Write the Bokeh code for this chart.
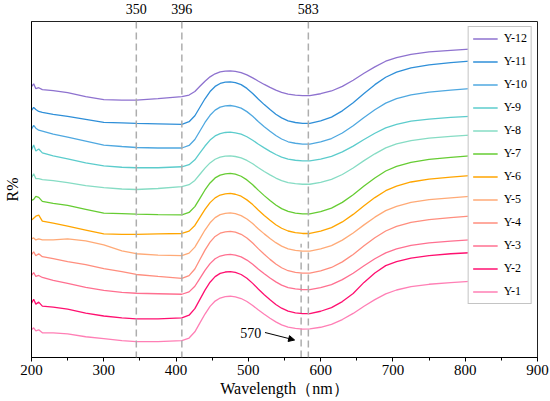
from bokeh.plotting import figure
from bokeh.models import (Range1d, SingleIntervalTicker, FixedTicker, Legend,
                          LegendItem, Label, Arrow, NormalHead, Span, LinearAxis)
from bokeh.embed import file_html
from bokeh.resources import INLINE

# ---------------- data (arbitrary R% units) ----------------
wavelength = [200, 203, 206, 210, 215, 230, 250, 275, 300, 325, 345, 375, 408,
              418, 426, 433, 440, 447, 454, 461, 468, 475,
              482, 490, 498, 506, 514, 522, 530, 538, 546, 555, 565, 575, 585,
              600, 615, 630, 645, 660, 675, 690, 705, 725, 750, 780, 806, 850]

r_y12 = [274, 277, 272, 273, 271, 270, 268, 264, 261, 260.5, 260.5, 262, 264,
         265.6, 269.2, 274.4, 279.6, 284.0, 287.1, 289.0, 289.7, 290,
         289.5, 288.3, 286, 283, 279.5, 276.3, 273.3, 270.5, 268.3, 266.5, 265.5, 265, 265,
         266.9, 269.7, 274.4, 280.5, 287.6, 294.1, 299.8, 303.5, 306.8, 309.2, 310.8, 312, 312.5]
r_y11 = [250, 253, 251, 249, 248, 246, 244, 241, 238, 237.5, 237, 236.5, 236,
         238.6, 244.6, 253.2, 261.8, 269.1, 274.3, 277.3, 278.6, 279,
         278.2, 276.1, 272.3, 267.2, 261.4, 255.9, 250.9, 246.2, 242.5, 239.5, 237.8, 237, 237,
         239.5, 243.3, 249.6, 257.8, 267.2, 276.1, 283.6, 288.7, 293.1, 296.2, 298.4, 300, 300.6]
r_y10 = [231, 235, 232, 230, 229, 226, 223, 219, 215, 213.5, 212.5, 212, 212,
         214.6, 220.6, 229.2, 237.8, 245.1, 250.3, 253.3, 254.6, 255,
         254.2, 252.3, 248.8, 244.1, 238.6, 233.6, 228.9, 224.6, 221.1, 218.3, 216.8, 216, 216,
         218.2, 221.6, 227.2, 234.5, 242.9, 250.7, 257.4, 261.9, 265.8, 268.6, 270.6, 272, 272.6]
r_y9 = [210, 215, 209, 211, 207, 204, 201, 197, 194, 192.5, 192, 192, 193,
        195.1, 200, 207, 214, 220, 224.2, 226.6, 227.7, 228,
        227.4, 226, 223.4, 219.9, 215.8, 212.1, 208.6, 205.4, 202.8, 200.7, 199.6, 199, 199,
        200.8, 203.5, 208, 213.9, 220.6, 226.9, 232.3, 235.9, 239.1, 241.3, 242.9, 244, 244.5]
r_y8 = [182, 186, 181, 181, 180, 179, 177, 174, 172, 170.5, 170, 171, 173,
        174.9, 179.2, 185.4, 191.6, 196.9, 200.6, 202.8, 203.7, 204,
        203.4, 202, 199.4, 196, 192, 188.2, 184.8, 181.6, 179, 177, 175.9, 175.3, 175.3,
        177.3, 180.3, 185.2, 191.7, 199.2, 206.1, 212.1, 216.1, 219.5, 222, 223.8, 225, 224.5]
r_y7 = [159, 160, 163, 162, 158, 156, 154, 150, 146, 145.5, 145, 144.5, 144.3,
        146.8, 152.7, 161.1, 169.5, 176.6, 181.7, 184.6, 185.9, 186.3,
        185.5, 183.4, 179.7, 174.8, 169.1, 163.8, 158.8, 154.3, 150.6, 147.8, 146.1, 145.3, 145.3,
        147.6, 151.2, 157, 164.7, 173.5, 181.7, 188.7, 193.4, 197.5, 200.5, 202.5, 204, 204.5]
r_y6 = [139, 141, 143, 144, 138, 136, 133, 129, 125, 124.5, 124.5, 125, 125.5,
        127.9, 133.6, 141.7, 149.8, 156.7, 161.5, 164.4, 165.6, 166,
        165.2, 163.2, 159.5, 154.7, 149, 143.7, 138.9, 134.4, 130.8, 128, 126.3, 125.5, 125.5,
        127.8, 131.4, 137.2, 144.8, 153.6, 161.8, 168.8, 173.5, 177.6, 180.5, 182.5, 184, 184.5]
r_y5 = [120, 121, 119, 120, 119, 119, 120, 118, 114, 108, 105, 103.5, 103,
        105.6, 111.7, 120.3, 129, 136.3, 141.5, 144.6, 145.9, 146.3,
        145.5, 143.6, 140.1, 135.5, 130.1, 125.1, 120.4, 116.2, 112.7, 110, 108.5, 107.7, 107.7,
        109.9, 113.2, 118.8, 126, 134.2, 142, 148.6, 153, 156.9, 159.7, 161.6, 163, 163.5]
r_y4 = [104, 107, 103, 105, 102, 100, 97, 94, 90, 87, 84, 82, 80,
        82.9, 89.5, 99.1, 108.6, 116.7, 122.5, 125.8, 127.2, 127.7,
        126.9, 124.7, 120.9, 115.8, 109.9, 104.4, 99.3, 94.6, 90.8, 87.8, 86.1, 85.3, 85.3,
        87.6, 91.1, 96.8, 104.3, 113, 121.1, 128, 132.6, 136.7, 139.5, 141.6, 143, 143.5]
r_y3 = [83, 86, 82, 83, 81, 78, 75, 71, 68, 66, 65, 64.5, 64,
        66.4, 72.1, 80.1, 88.2, 95, 99.9, 102.7, 103.9, 104.3,
        103.6, 101.8, 98.6, 94.3, 89.3, 84.7, 80.4, 76.5, 73.3, 70.8, 69.4, 68.7, 68.7,
        70.7, 73.7, 78.8, 85.3, 92.8, 99.9, 105.9, 110, 113.5, 116, 117.7, 119, 119]
r_y2 = [55, 59, 54, 56, 52, 51, 49, 45, 42, 40, 39, 39, 40,
        42.8, 49.4, 58.8, 68.2, 76.2, 81.8, 85.1, 86.5, 87,
        86.1, 84, 80.2, 75, 69.1, 63.5, 58.4, 53.7, 49.9, 46.9, 45.2, 44.3, 44.3,
        46.8, 50.5, 56.6, 64.7, 76, 85.5, 93, 97, 100.5, 103, 105, 106, 106.5]
r_y1 = [28, 30, 27, 28, 25, 25, 24, 21, 19, 17, 16, 16, 17,
        19.7, 26, 35, 44, 51.7, 57.1, 60.2, 61.6, 62,
        61.3, 59.7, 56.7, 52.7, 48, 43.7, 39.7, 36, 33, 30.7, 29.4, 28.7, 28.9,
        30.6, 33.5, 38.4, 44.6, 51.9, 58.6, 64.4, 68.3, 71.7, 74.1, 75.8, 77, 77]

series_names = ["Y-12", "Y-11", "Y-10", "Y-9", "Y-8", "Y-7",
                "Y-6", "Y-5", "Y-4", "Y-3", "Y-2", "Y-1"]
series_values = [r_y12, r_y11, r_y10, r_y9, r_y8, r_y7,
                 r_y6, r_y5, r_y4, r_y3, r_y2, r_y1]
series_colors = ["#8E72CF", "#2F8FD8", "#4FA8E0", "#5CCCCC", "#86DCC4", "#66CC33",
                 "#FFA500", "#FFAA77", "#FF8E7E", "#FF7090", "#FF1070", "#FF7FB5"]

marker_lines = [345, 408, 583]          # dashed reference lines (nm)
marker_texts = ["350", "396", "583"]
short_line_nm = 573                     # short dashed line near Y-1 minimum
short_line_top = 115
note_text = "570"

x_ticks_interval = 100

FONT = "Liberation Serif"
TXT = "black"

# ---------------- figure ----------------
p = figure(width=550, height=401, output_backend="svg", toolbar_location=None,
           x_range=Range1d(200, 900), y_range=Range1d(0, 340),
           min_border_left=29, min_border_right=13, min_border_top=17,
           min_border_bottom=44)
p.grid.visible = False
p.outline_line_color = "#222222"
p.outline_line_width = 1
p.background_fill_color = "white"
p.border_fill_color = "white"

# x axis
p.xaxis.ticker = SingleIntervalTicker(interval=x_ticks_interval, num_minor_ticks=2)
p.xaxis.axis_label = "Wavelength（nm）"
p.xaxis.axis_label_text_font = FONT
p.xaxis.axis_label_text_font_style = "normal"
p.xaxis.axis_label_text_font_size = "16px"
p.xaxis.axis_label_text_color = TXT
p.xaxis.axis_label_standoff = 2
p.xaxis.major_label_text_font = FONT
p.xaxis.major_label_text_font_size = "15px"
p.xaxis.major_label_text_color = TXT
p.xaxis.major_label_standoff = 3
p.xaxis.major_tick_in = 0
p.xaxis.major_tick_out = 4
p.xaxis.minor_tick_in = 0
p.xaxis.minor_tick_out = 3
p.xaxis.axis_line_color = "black"
p.xaxis.major_tick_line_color = "black"
p.xaxis.minor_tick_line_color = "black"

# y axis: label only
p.yaxis.ticker = FixedTicker(ticks=[])
p.yaxis.major_tick_line_color = None
p.yaxis.minor_tick_line_color = None
p.yaxis.major_label_text_font_size = "0px"
p.yaxis.axis_label = "R%"
p.yaxis.axis_label_text_font = FONT
p.yaxis.axis_label_text_font_style = "normal"
p.yaxis.axis_label_text_font_size = "16px"
p.yaxis.axis_label_text_color = TXT
p.yaxis.axis_label_standoff = 11
p.yaxis.axis_line_color = "black"

# top labels for the reference lines
top_axis = LinearAxis(ticker=FixedTicker(ticks=marker_lines),
                      major_label_overrides={k: t for k, t in zip(marker_lines, marker_texts)},
                      axis_line_color=None, major_tick_line_color=None,
                      minor_tick_line_color=None, major_label_standoff=2,
                      major_label_text_font=FONT, major_label_text_font_size="14px",
                      major_label_text_color=TXT)
p.add_layout(top_axis, "above")

# dashed reference lines
for nm in marker_lines:
    p.add_layout(Span(location=nm, dimension="height", line_color="#ADADAD",
                      line_width=1.5, line_dash="7 4"))
p.segment(x0=[short_line_nm], y0=[0], x1=[short_line_nm], y1=[short_line_top],
          line_color="#ADADAD", line_width=1.5, line_dash="7 4")

# curves
items = []
for name, vals, col in zip(series_names, series_values, series_colors):
    r = p.line(wavelength, vals, line_color=col, line_width=1.3)
    items.append(LegendItem(label=name, renderers=[r]))

legend = Legend(items=items, location="top_right", margin=5, padding=4,
                spacing=8, label_height=15, glyph_height=15, glyph_width=25,
                label_standoff=6, label_text_font=FONT, label_text_font_size="12px",
                label_text_color=TXT,
                border_line_color="#8A8A8A", border_line_width=1.5,
                background_fill_color="white", background_fill_alpha=1.0)
p.add_layout(legend)

# annotation 570 with arrow
p.add_layout(Label(x=518, y=24.5, text=note_text, text_align="right",
                   text_baseline="middle", text_font=FONT, text_font_size="14px",
                   text_color=TXT))
p.add_layout(Arrow(end=NormalHead(size=6, fill_color="black", line_color="black"),
                   x_start=523, y_start=25.3, x_end=564, y_end=17.7,
                   line_color="black", line_width=1))

open("out.html", "w").write(file_html(p, INLINE))
